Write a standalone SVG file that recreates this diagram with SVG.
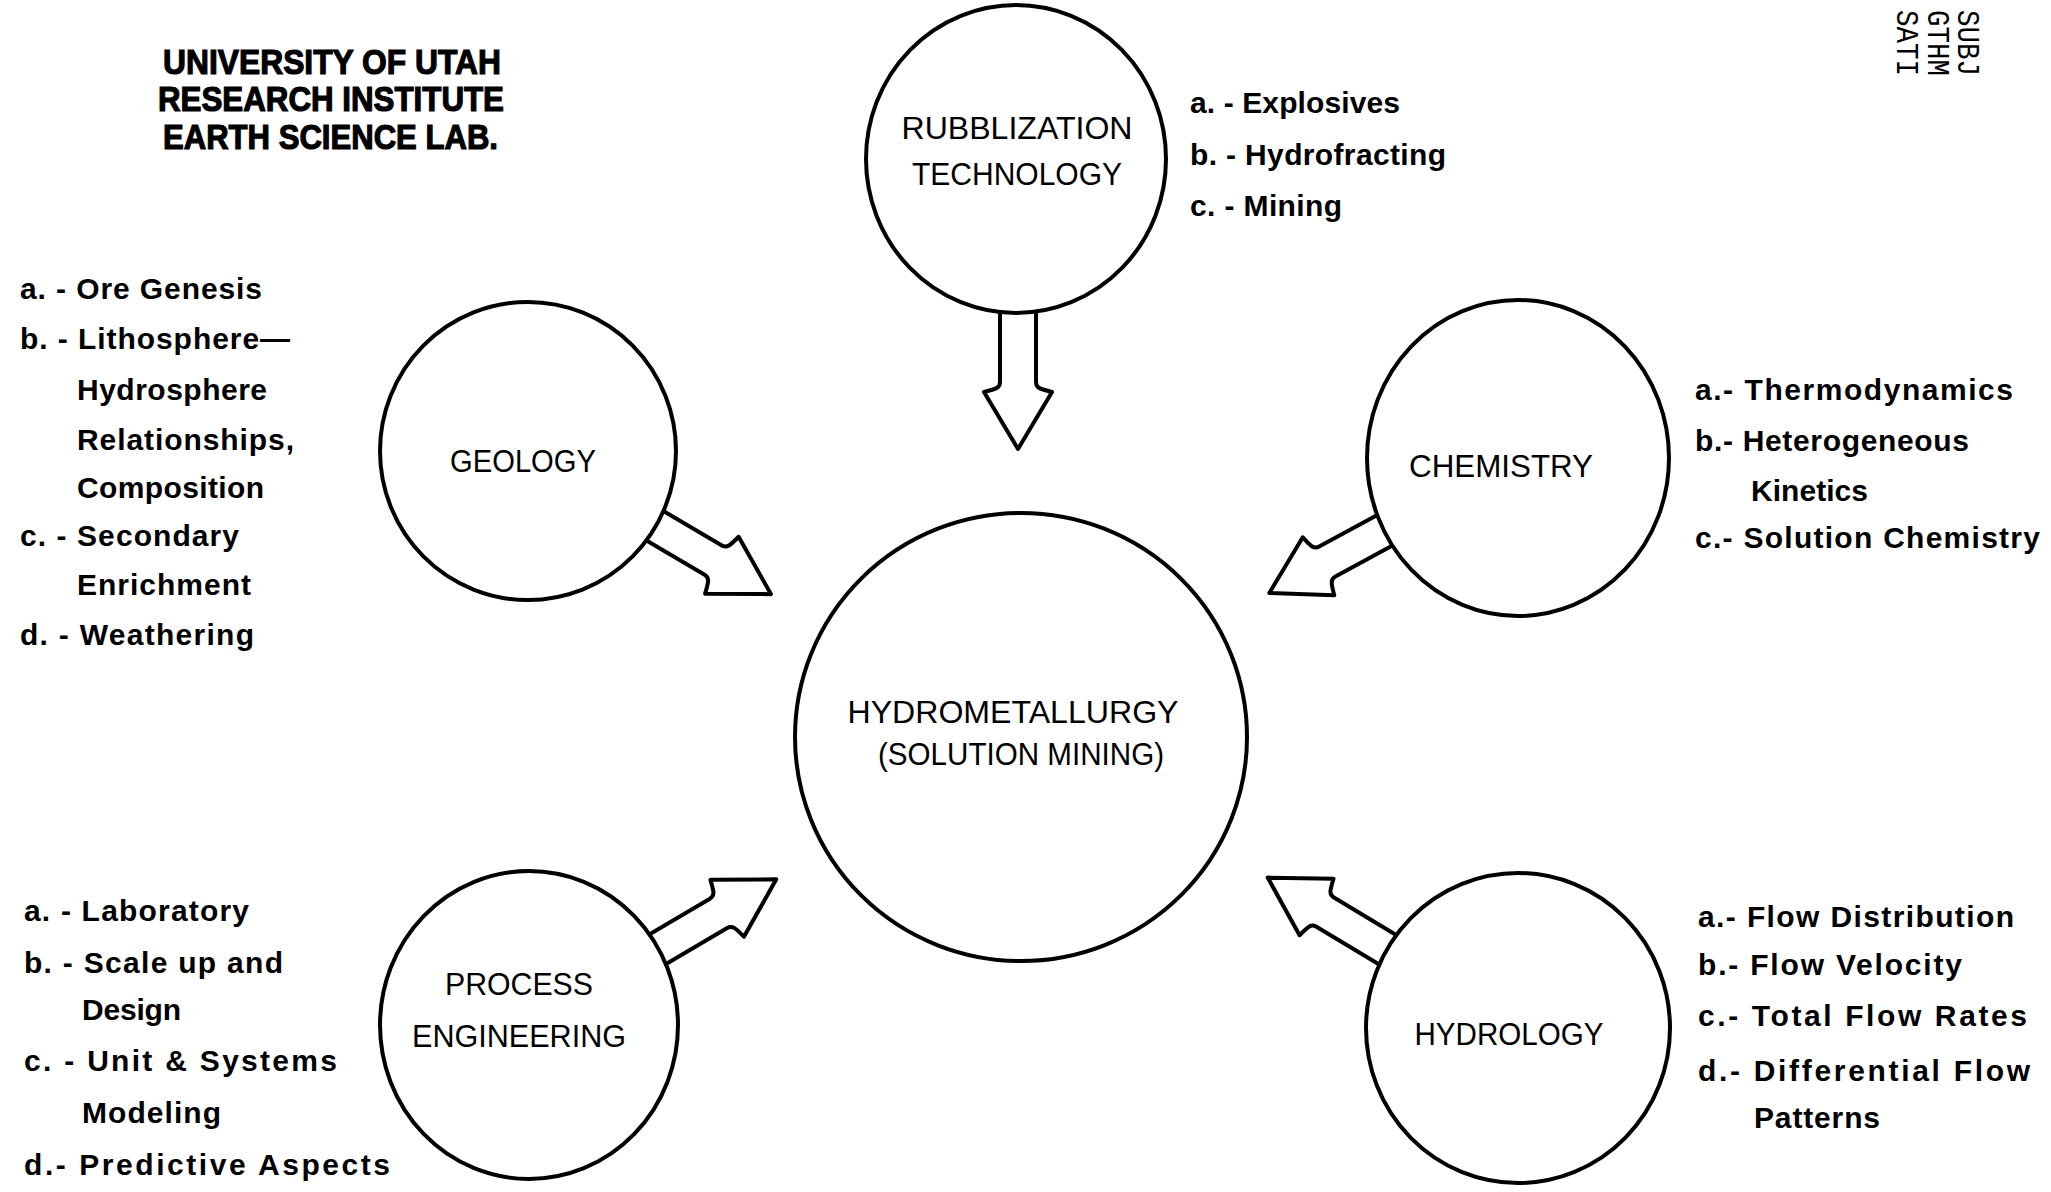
<svg xmlns="http://www.w3.org/2000/svg" width="2051" height="1192" viewBox="0 0 2051 1192">
<style>
.c{fill:#fff;stroke:#000;stroke-width:4}
.a{fill:#fff;stroke:#000;stroke-width:4;stroke-linejoin:round}
.lbl{font-family:"Liberation Sans",Arial,sans-serif;font-size:31px;text-anchor:middle;fill:#000}
.lst{font-family:"Liberation Sans",Arial,sans-serif;font-size:30px;font-weight:bold;fill:#000}
.hdr{font-family:"Liberation Sans",Arial,sans-serif;font-size:35px;font-weight:bold;fill:#000;stroke:#000;stroke-width:1.2}
.stamp{font-family:"Liberation Mono","DejaVu Sans Mono",monospace;font-size:31px;fill:#000}
</style>
<rect width="2051" height="1192" fill="#fff"/>

<g id="header">
<text class="hdr" x="163" y="74" textLength="338" lengthAdjust="spacingAndGlyphs">UNIVERSITY OF UTAH</text>
<text class="hdr" x="158" y="111" textLength="346" lengthAdjust="spacingAndGlyphs">RESEARCH INSTITUTE</text>
<text class="hdr" x="163" y="149" textLength="335" lengthAdjust="spacingAndGlyphs">EARTH SCIENCE LAB.</text>
</g>

<g id="stamp">
<text class="stamp" transform="translate(1958,10) rotate(90)" textLength="66" lengthAdjust="spacingAndGlyphs">SUBJ</text>
<text class="stamp" transform="translate(1928,10) rotate(90)" textLength="66" lengthAdjust="spacingAndGlyphs">GTHM</text>
<text class="stamp" transform="translate(1897,10) rotate(90)" textLength="66" lengthAdjust="spacingAndGlyphs">SATI</text>
</g>

<g id="connectors">
<path class="a" transform="translate(1018,260) rotate(90)" d="M0,-18 L122,-18 C128,-18 129,-22 132,-34 L189,0 L132,34 C129,22 128,18 122,18 L0,18 Z"/>
<path class="a" transform="translate(528,451) rotate(30.5)" d="M0,-17 L215,-17 C221,-17 222,-21 225,-33 L282,0 L225,33 C222,21 221,17 215,17 L0,17 Z"/>
<path class="a" transform="translate(1518,458) rotate(151.5)" d="M0,-17 L217,-17 C223,-17 224,-21 227,-33 L283,0 L227,33 C224,21 223,17 217,17 L0,17 Z"/>
<path class="a" transform="translate(529,1025) rotate(-30.5)" d="M0,-17 L220,-17 C226,-17 227,-21 230,-33 L287,0 L230,33 C227,21 226,17 220,17 L0,17 Z"/>
<path class="a" transform="translate(1518,1028) rotate(211)" d="M0,-17 L225,-17 C231,-17 232,-21 235,-33 L292,0 L235,33 C232,21 231,17 225,17 L0,17 Z"/>
</g>

<g id="rubblization">
<ellipse class="c" cx="1016" cy="159" rx="150" ry="154"/>
<text class="lbl" x="1017" y="139" textLength="231" lengthAdjust="spacingAndGlyphs">RUBBLIZATION</text>
<text class="lbl" x="1017" y="185" textLength="210" lengthAdjust="spacingAndGlyphs">TECHNOLOGY</text>
<text class="lst" x="1190" y="113" textLength="210">a. - Explosives</text>
<text class="lst" x="1190" y="165" textLength="256">b. - Hydrofracting</text>
<text class="lst" x="1190" y="216" textLength="152">c. - Mining</text>
</g>

<g id="geology">
<ellipse class="c" cx="528" cy="451" rx="148" ry="149"/>
<text class="lbl" x="523" y="472" textLength="146" lengthAdjust="spacingAndGlyphs">GEOLOGY</text>
<text class="lst" x="20" y="299" textLength="242">a. - Ore Genesis</text>
<text class="lst" x="20" y="349" textLength="270">b. - Lithosphere—</text>
<text class="lst" x="77" y="400" textLength="190">Hydrosphere</text>
<text class="lst" x="77" y="450" textLength="217">Relationships,</text>
<text class="lst" x="77" y="498" textLength="187">Composition</text>
<text class="lst" x="20" y="546" textLength="219">c. - Secondary</text>
<text class="lst" x="77" y="595" textLength="174">Enrichment</text>
<text class="lst" x="20" y="645" textLength="234">d. - Weathering</text>
</g>

<g id="chemistry">
<ellipse class="c" cx="1518" cy="458" rx="151" ry="158"/>
<text class="lbl" x="1501" y="477" textLength="184" lengthAdjust="spacingAndGlyphs">CHEMISTRY</text>
<text class="lst" x="1695" y="400" textLength="318">a.- Thermodynamics</text>
<text class="lst" x="1695" y="451" textLength="274">b.- Heterogeneous</text>
<text class="lst" x="1751" y="501" textLength="117">Kinetics</text>
<text class="lst" x="1695" y="548" textLength="345">c.- Solution Chemistry</text>
</g>

<g id="hydrometallurgy">
<ellipse class="c" cx="1021" cy="737" rx="226" ry="224"/>
<text class="lbl" x="1013" y="723" textLength="331" lengthAdjust="spacingAndGlyphs">HYDROMETALLURGY</text>
<text class="lbl" x="1021" y="765" textLength="286" lengthAdjust="spacingAndGlyphs">(SOLUTION  MINING)</text>
</g>

<g id="process-engineering">
<ellipse class="c" cx="529" cy="1025" rx="149" ry="154"/>
<text class="lbl" x="519" y="995" textLength="148" lengthAdjust="spacingAndGlyphs">PROCESS</text>
<text class="lbl" x="519" y="1047" textLength="214" lengthAdjust="spacingAndGlyphs">ENGINEERING</text>
<text class="lst" x="24" y="921" textLength="225">a. - Laboratory</text>
<text class="lst" x="24" y="973" textLength="259">b. - Scale up and</text>
<text class="lst" x="82" y="1020" textLength="99">Design</text>
<text class="lst" x="24" y="1071" textLength="313">c. - Unit &amp; Systems</text>
<text class="lst" x="82" y="1123" textLength="139">Modeling</text>
<text class="lst" x="24" y="1175" textLength="366">d.- Predictive Aspects</text>
</g>

<g id="hydrology">
<ellipse class="c" cx="1518" cy="1028" rx="152" ry="155"/>
<text class="lbl" x="1509" y="1045" textLength="189" lengthAdjust="spacingAndGlyphs">HYDROLOGY</text>
<text class="lst" x="1698" y="927" textLength="316">a.- Flow Distribution</text>
<text class="lst" x="1698" y="975" textLength="264">b.- Flow Velocity</text>
<text class="lst" x="1698" y="1026" textLength="329">c.- Total Flow Rates</text>
<text class="lst" x="1698" y="1081" textLength="332">d.- Differential Flow</text>
<text class="lst" x="1754" y="1128" textLength="126">Patterns</text>
</g>
</svg>
